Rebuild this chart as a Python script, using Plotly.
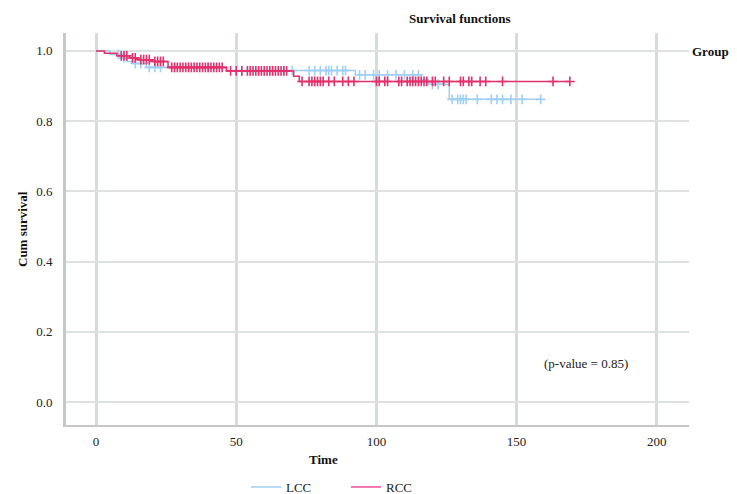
import numpy as np
import plotly.graph_objects as go

# ---- data ----
lcc_event_t = [0, 5.0, 9.0, 11.0, 13.0, 18.0, 47.0, 92.5, 116.0, 118.5, 126.0]
lcc_surv    = [1.0, 0.990, 0.980, 0.970, 0.964, 0.953, 0.944, 0.932, 0.918, 0.905, 0.862]
lcc_end = 158.6
lcc_censor = [8, 10, 14, 16, 19, 21, 23, 28, 33, 40, 52, 58, 63, 67, 70, 76, 78, 80, 82, 83,
              84, 86, 88, 89, 94, 96, 99, 101, 104, 107, 110, 113, 115, 120, 122, 127, 129,
              130, 131, 132, 136, 141, 143, 145, 148, 152, 158.6]

rcc_event_t = [0, 3.0, 7.5, 12.0, 15.0, 20.0, 25.7, 46.5, 70.5, 72.5]
rcc_surv    = [1.0, 0.993, 0.986, 0.980, 0.975, 0.970, 0.953, 0.943, 0.928, 0.913]
rcc_end = 169
rcc_censor = [9, 10, 11, 13, 14, 16, 17, 18, 19, 21, 22, 23, 24, 27, 28, 29, 30, 31, 32, 33,
              34, 35, 36, 37, 38, 39, 40, 41, 42, 43, 44, 45, 48, 50, 52, 54, 55, 56, 57, 58,
              59, 60, 61, 62, 63, 64, 65, 66, 67, 68, 73.5, 76, 77, 78, 79, 80, 81, 83, 85,
              88, 90, 92, 100, 101, 103, 104, 108, 109, 111, 112, 113, 114, 115, 116, 117,
              118, 120, 121, 124, 126, 130, 131, 133, 134, 137, 139, 145, 163, 169]

groups = ["LCC", "RCC"]
colors = {"LCC": "#9fd0f2", "RCC": "#e3306c"}
legend_icon_colors = {"LCC": "#9fd0f2", "RCC": "#ec4b9a"}
x_ticks = [0, 50, 100, 150, 200]
y_ticks = [0.0, 0.2, 0.4, 0.6, 0.8, 1.0]
p_text = "(p-value = 0.85)"

FONT = "Liberation Serif"

def step_xy(ts, ss, end):
    xs, ys = [], []
    for i, (t, s) in enumerate(zip(ts, ss)):
        if i > 0:
            xs.append(t); ys.append(ss[i - 1])
        xs.append(t); ys.append(s)
    xs.append(end); ys.append(ss[-1])
    return xs, ys

def surv_at(ts, ss, c):
    idx = np.searchsorted(np.array(ts), np.array(c), side="right") - 1
    return [ss[i] for i in idx]

# page is drawn with an 8px body margin: plot area target (page px) x 66..689, y 33..425
ML, MR, MT, MB = 58, 56, 25, 77
W, H = 737, 494
pw = W - ML - MR
ph = H - MT - MB

def px_x(page_x):
    return (page_x - 8 - ML) / pw

def px_y(page_y):
    return (H - MB - (page_y - 8)) / ph

fig = go.Figure()
data = {
    "LCC": (lcc_event_t, lcc_surv, lcc_end, lcc_censor),
    "RCC": (rcc_event_t, rcc_surv, rcc_end, rcc_censor),
}
legend_keys = {"LCC": "legend", "RCC": "legend2"}
for g in groups:
    ts, ss, end, cens = data[g]
    xs, ys = step_xy(ts, ss, end)
    fig.add_trace(go.Scatter(x=xs, y=ys, mode="lines", name=g,
                             line=dict(color=colors[g], width=1.5),
                             legendgroup=g, showlegend=False))
    fig.add_trace(go.Scatter(x=cens, y=surv_at(ts, ss, cens), mode="markers",
                             marker=dict(symbol="cross-thin-open", size=7, color=colors[g],
                                         line=dict(color=colors[g], width=1.6)),
                             legendgroup=g, showlegend=False, hoverinfo="skip"))
    # legend entry
    fig.add_trace(go.Scatter(x=[None], y=[None], mode="lines", name=g,
                             line=dict(color=legend_icon_colors[g], width=1.5),
                             showlegend=True, legend=legend_keys[g]))

fig.update_xaxes(range=[-10.7, 211.5], tickvals=x_ticks, showgrid=True,
                 gridcolor="#d6dbdb", gridwidth=3, zeroline=False,
                 showline=True, linecolor="#c3c8c8", linewidth=2,
                 ticks="outside", ticklen=3, tickcolor="rgba(0,0,0,0)",
                 tickfont=dict(family=FONT, size=13, color="#222"))
fig.update_yaxes(range=[-0.0655, 1.051], tickvals=y_ticks, tickformat=".1f",
                 showgrid=True, gridcolor="#dde1e1", gridwidth=2, zeroline=False,
                 showline=True, linecolor="#c3c8c8", linewidth=3,
                 ticks="outside", ticklen=8, tickcolor="rgba(0,0,0,0)",
                 tickfont=dict(family=FONT, size=13, color="#222"))

leg_common = dict(orientation="h", xref="container", yref="container",
                  xanchor="left", yanchor="middle", itemwidth=30,
                  font=dict(family=FONT, size=13, color="#222"),
                  bgcolor="rgba(0,0,0,0)")

fig.update_layout(
    width=W, height=H,
    margin=dict(l=ML, r=MR, t=MT, b=MB),
    paper_bgcolor="white", plot_bgcolor="white",
    showlegend=True,
    legend=dict(leg_common, x=(246 - 8) / W, y=1 - (487 - 8) / H),
    legend2=dict(leg_common, x=(346 - 8) / W, y=1 - (487 - 8) / H),
    annotations=[
        dict(text="<b>Survival functions</b>", x=px_x(460), y=px_y(18), xref="paper", yref="paper",
             xanchor="center", yanchor="middle",
             showarrow=False, font=dict(family=FONT, size=13, color="#111")),
        dict(text="<b>Cum survival</b>", x=px_x(22), y=px_y(229), xref="paper", yref="paper",
             xanchor="center", yanchor="middle",
             textangle=-90, showarrow=False, font=dict(family=FONT, size=13, color="#111")),
        dict(text="<b>Time</b>", x=px_x(323), y=px_y(460), xref="paper", yref="paper",
             xanchor="center", yanchor="middle",
             showarrow=False, font=dict(family=FONT, size=13, color="#111")),
        dict(text="<b>Group</b>", x=px_x(731), y=px_y(51), xref="paper", yref="paper",
             xanchor="right", yanchor="middle",
             showarrow=False, bgcolor="white", font=dict(family=FONT, size=13, color="#111")),
        dict(text=p_text, x=174.6, y=0.111, xref="x", yref="y",
             showarrow=False, font=dict(family=FONT, size=13, color="#222")),
    ],
)

fig.write_html("out.html")
